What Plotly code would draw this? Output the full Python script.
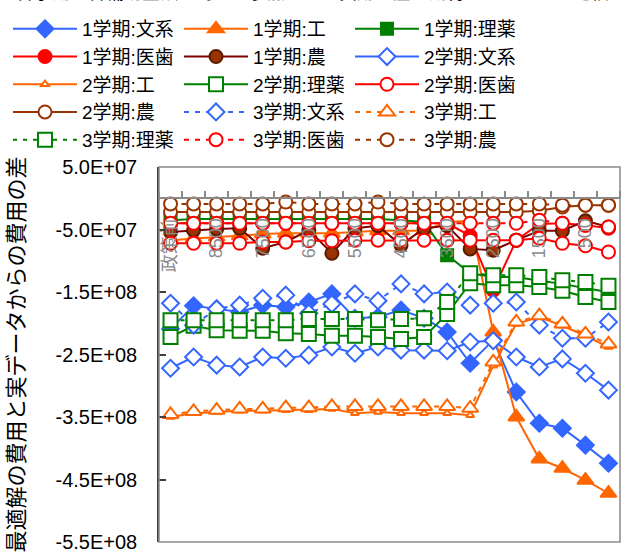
import plotly.graph_objects as go

# ---------------- data (values in millions of yen) ----------------
categories = ["政策前", "9000", "8500", "8000", "7500", "7000", "6500", "6000", "5500", "5000",
              "4500", "4000", "3500", "3000", "2500", "2000", "1500", "1000", "500", "0"]

s1_bunkei = [-209, -172, -177, -182, -171, -174, -166, -153, -192, -190,
             -179, -192, -214, -264, -227, -310, -360, -368, -395, -424]
s1_kou = [-67, -64, -62, -60, -57, -56, -56, -56, -54, -52,
          -52, -52, -38, -36, -214, -350, -417, -432, -451, -472]
s1_riyaku = [-35, -33, -33, -33, -33, -33, -33, -33, -33, -33,
             -35, -38, -91, -120, -126, -126, -132, -137, -144, -150]
s1_ishi = [-40, -40, -40, -40, -40, -40, -40, -40, -40, -40,
           -40, -40, -40, -60, -147, -67, -41, -40, -43, -48]
s1_nou = [-54, -51, -49, -48, -80, -70, -51, -88, -48, -44,
          -75, -48, -44, -81, -83, -67, -52, -52, -36, -46]

s2_bunkei = [-272, -254, -267, -270, -254, -256, -251, -238, -248, -238,
             -243, -243, -244, -230, -228, -254, -270, -257, -280, -307]
s2_kou = [-350, -344, -342, -340, -340, -339, -339, -337, -344, -342,
          -344, -344, -344, -347, -268, -201, -190, -204, -220, -238]
s2_riyaku = [-222, -204, -211, -212, -212, -216, -217, -220, -220, -222,
             -225, -222, -185, -136, -139, -139, -142, -148, -158, -166]
s2_ishi = [-72, -72, -72, -72, -70, -70, -68, -68, -67, -67,
           -67, -67, -67, -67, -67, -67, -64, -72, -76, -86]
s2_nou = [-22, -22, -22, -22, -22, -22, -22, -22, -22, -22,
          -22, -22, -22, -22, -22, -22, -20, -14, -11, -11]

s3_bunkei = [-168, -203, -177, -171, -160, -155, -184, -169, -153, -164,
             -137, -153, -150, -171, -168, -166, -203, -224, -224, -198]
s3_kou = [-346, -341, -339, -337, -337, -335, -335, -333, -333, -333,
          -333, -333, -333, -336, -262, -198, -188, -201, -217, -233]
s3_riyaku = [-195, -195, -195, -195, -195, -195, -193, -193, -193, -195,
             -193, -192, -166, -120, -123, -123, -126, -131, -134, -140]
s3_ishi = [-40, -40, -40, -40, -40, -40, -40, -40, -40, -40,
           -40, -40, -40, -40, -40, -40, -35, -40, -43, -46]
s3_nou = [-9, -9, -9, -9, -9, -6, -9, -9, -9, -6,
          -9, -9, -9, -9, -9, -9, -9, -11, -11, -11]

y_tickvals = [50e6, -50e6, -150e6, -250e6, -350e6, -450e6, -550e6]
y_ticktext = ["5.0E+07", "-5.0E+07", "-1.5E+08", "-2.5E+08", "-3.5E+08", "-4.5E+08", "-5.5E+08"]

y_title = "最適解の費用と実データからの費用の差"
chart_title = "各学期の各補助金額に対して参加による費用の差が期待できるときの比較"

# ---------------- styles ----------------
BLUE = "#3366FF"
ORANGE = "#FF6600"
GREEN = "#008000"
RED = "#FF0000"
BROWN = "#993300"
MAROON = "#800000"
FONT = "Liberation Sans, Arial, Noto Sans CJK JP, sans-serif"

x_pos = list(range(len(categories)))

series = [
    ("1学期:文系", s1_bunkei, BLUE, "solid", "diamond", 13, BLUE, BLUE),
    ("1学期:工", s1_kou, ORANGE, "solid", "triangle-up", 14, ORANGE, ORANGE),
    ("1学期:理薬", s1_riyaku, GREEN, "solid", "square", 12, GREEN, GREEN),
    ("1学期:医歯", s1_ishi, RED, "solid", "circle", 13, RED, RED),
    ("1学期:農", s1_nou, MAROON, "solid", "circle", 13, BROWN, "#5a1a00"),
    ("2学期:文系", s2_bunkei, BLUE, "solid", "diamond", 13, "white", BLUE),
    ("2学期:工", s2_kou, ORANGE, "solid", "triangle-up", 7, "white", ORANGE),
    ("2学期:理薬", s2_riyaku, GREEN, "solid", "square", 14, "white", GREEN),
    ("2学期:医歯", s2_ishi, RED, "solid", "circle", 13, "white", RED),
    ("2学期:農", s2_nou, BROWN, "solid", "circle", 13, "white", BROWN),
    ("3学期:文系", s3_bunkei, BLUE, "5px,6px", "diamond", 13, "white", BLUE),
    ("3学期:工", s3_kou, ORANGE, "5px,6px", "triangle-up", 14, "white", ORANGE),
    ("3学期:理薬", s3_riyaku, GREEN, "4px,6px", "square", 14, "white", GREEN),
    ("3学期:医歯", s3_ishi, RED, "5px,6px", "circle", 13, "white", RED),
    ("3学期:農", s3_nou, BROWN, "5px,6px", "circle", 13, "white", BROWN),
]

fig = go.Figure()
for name, vals, lcolor, dash, symbol, size, fill, mline in series:
    fig.add_trace(go.Scatter(
        x=x_pos, y=[v * 1e6 for v in vals], name=name, mode="lines+markers",
        line=dict(color=lcolor, width=2, dash=dash),
        marker=dict(symbol=symbol, size=size, color=fill, line=dict(color=mline, width=2)),
    ))

# plot frame
fig.add_shape(type="rect", xref="paper", yref="paper", x0=0, x1=1, y0=0, y1=1,
              line=dict(color="#8a8a8a", width=1.5), layer="above")

PW, PH, ML, MT = 461.0, 375.0, 159.0, 167.0

# partially visible title at the very top
fig.add_annotation(text=chart_title, xref="paper", yref="paper", x=0.332, y=1 + (MT + 7) / PH,
                   xanchor="center", yanchor="middle", showarrow=False,
                   font=dict(size=18, color="#000000", family=FONT))

fig.update_layout(
    width=624, height=553,
    margin=dict(l=159, r=4, t=167, b=11, autoexpand=False),
    paper_bgcolor="white", plot_bgcolor="white",
    font=dict(family=FONT, color="#000000"),
    showlegend=True,
    legend=dict(orientation="h", xref="paper", yref="paper",
                x=(8 - ML) / PW, y=1 + (MT - 10) / PH,
                xanchor="left", yanchor="top", font=dict(size=19, family=FONT),
                itemwidth=64, entrywidth=92, entrywidthmode="pixels",
                bgcolor="rgba(0,0,0,0)", itemclick=False),
    xaxis=dict(range=[-0.5, len(categories) - 0.5], anchor="free",
               position=(0 - (-550e6)) / (50e6 - (-550e6)),
               showline=True, linecolor="#8a8a8a", linewidth=1.5,
               tickmode="array", tickvals=x_pos[::2], ticktext=categories[::2],
               ticks="", tickangle=-90, tickfont=dict(size=18, color="#8c8c8c"),
               ticklabelstandoff=12,
               minor=dict(ticks="inside", ticklen=7, tickcolor="#8a8a8a", tickwidth=1.5,
                          tick0=0.5, dtick=1, showgrid=False),
               showgrid=False, zeroline=False),
    yaxis=dict(range=[-550e6, 50e6], tickmode="array", tickvals=y_tickvals, ticktext=y_ticktext,
               ticks="inside", ticklen=7, tickcolor="#404040", tickwidth=1.5,
               showline=True, linecolor="#404040", linewidth=1.5,
               tickfont=dict(size=20, color="#000000"), ticklabelstandoff=16,
               showgrid=False, zeroline=False,
               title=dict(text=y_title, font=dict(size=22, color="#000000"), standoff=25)),
)

fig.write_html("out.html")
